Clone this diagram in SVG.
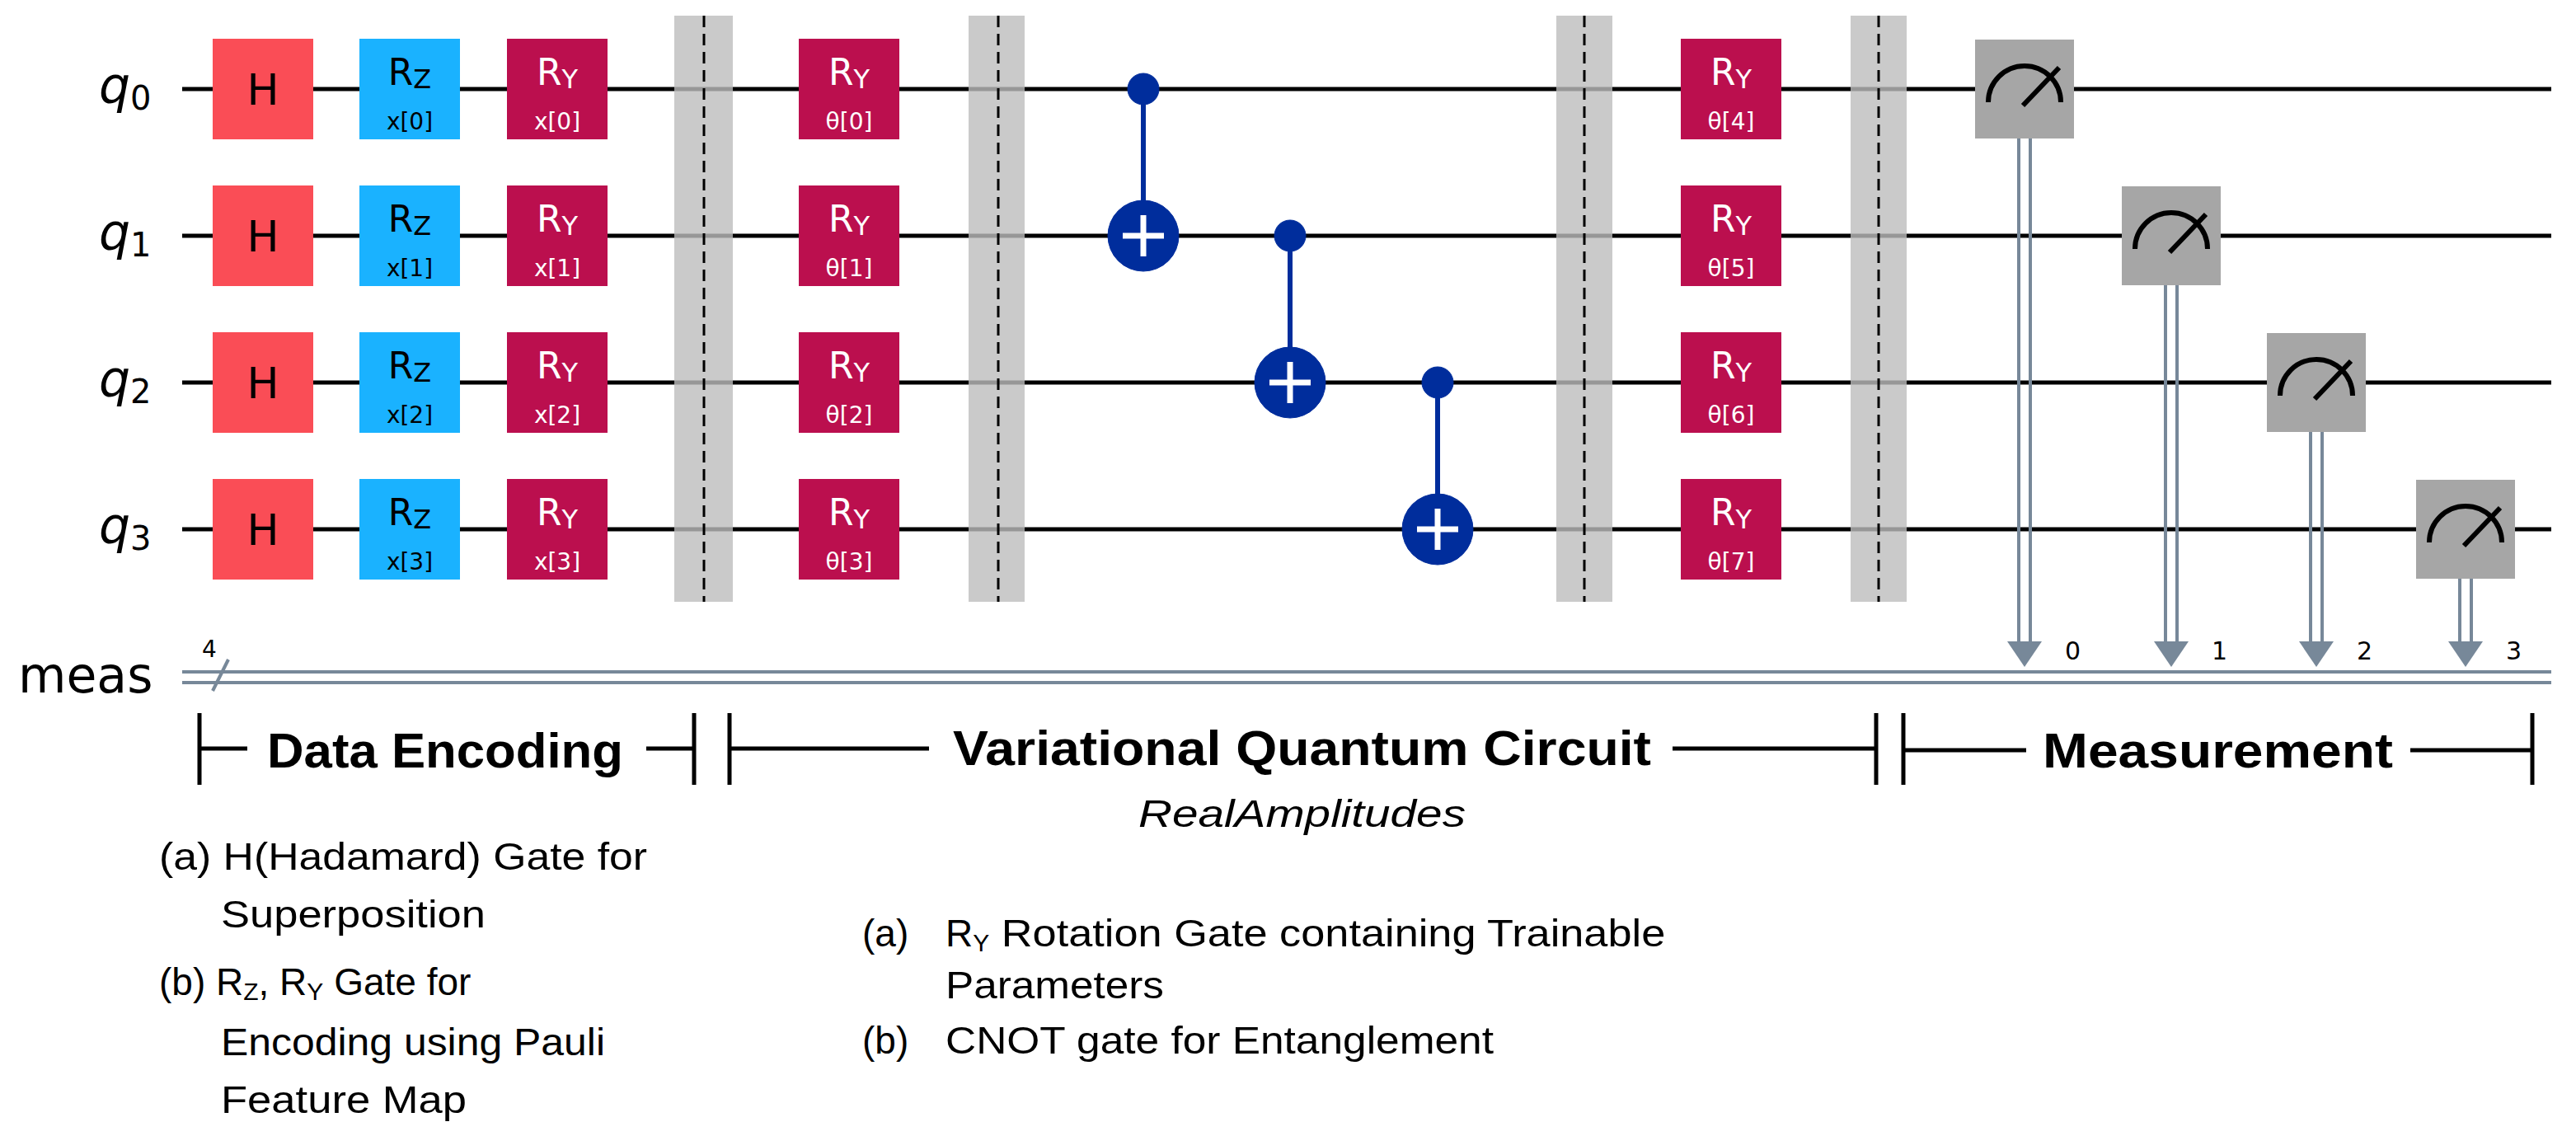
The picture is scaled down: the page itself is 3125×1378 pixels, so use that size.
<svg xmlns="http://www.w3.org/2000/svg" width="3125" height="1378" viewBox="0 0 3125 1378">
<style>
.w{stroke:#000;stroke-width:5}
.bar{fill:#bdbdbd;fill-opacity:0.8}
.dash{stroke:#000;stroke-width:3;stroke-dasharray:14 8}
.h{fill:#fa4d56}.rz{fill:#1ab2ff}.ry{fill:#bb0f4e}
.gt{font-family:"DejaVu Sans",sans-serif;text-anchor:middle}
.ql{font-family:"DejaVu Sans",sans-serif;font-style:italic;font-size:60px}
.cn{fill:#002d9c;stroke:#002d9c}
.mb{fill:#a6a6a6}
.gauge{fill:none;stroke:#000;stroke-width:6}
.cl{stroke:#778899;stroke-width:4;fill:none}
.br{stroke:#000;stroke-width:5;fill:none}
.bt{font-family:"Liberation Sans",Arial,sans-serif;font-weight:bold;font-size:60px}
.tx{font-family:"Liberation Sans",Arial,sans-serif;font-size:46px}
</style>
<rect width="3125" height="1378" fill="#fff"/>
<g id="labels">
<text class="ql" x="120" y="125">q<tspan font-size="40" font-style="normal" dy="8">0</tspan></text>
<text class="ql" x="120" y="303">q<tspan font-size="40" font-style="normal" dy="8">1</tspan></text>
<text class="ql" x="120" y="481">q<tspan font-size="40" font-style="normal" dy="8">2</tspan></text>
<text class="ql" x="120" y="659">q<tspan font-size="40" font-style="normal" dy="8">3</tspan></text>
<text x="22" y="840" font-family="DejaVu Sans,sans-serif" font-size="60">meas</text>
<text x="245" y="797" font-family="DejaVu Sans,sans-serif" font-size="28">4</text>
</g>
<g id="connectors">
<line class="w" x1="221" y1="108" x2="3095" y2="108"/>
<line class="w" x1="221" y1="286" x2="3095" y2="286"/>
<line class="w" x1="221" y1="464" x2="3095" y2="464"/>
<line class="w" x1="221" y1="642" x2="3095" y2="642"/>
<line class="cl" x1="221" y1="815" x2="3095" y2="815"/>
<line class="cl" x1="221" y1="828" x2="3095" y2="828"/>
<line x1="258" y1="838" x2="277" y2="800" stroke="#778899" stroke-width="4"/>
<line x1="1387" y1="108" x2="1387" y2="286" stroke="#002d9c" stroke-width="6"/>
<line x1="1565" y1="286" x2="1565" y2="464" stroke="#002d9c" stroke-width="6"/>
<line x1="1744" y1="464" x2="1744" y2="642" stroke="#002d9c" stroke-width="6"/>
<g class="cl">
<path d="M2449 168V780M2463 168V780"/>
<path d="M2627 346V780M2641 346V780"/>
<path d="M2803 524V780M2817 524V780"/>
<path d="M2984 702V780M2998 702V780"/>
</g>
<g fill="#778899">
<path d="M2435 778h42l-21 31z"/>
<path d="M2613 778h42l-21 31z"/>
<path d="M2789 778h42l-21 31z"/>
<path d="M2970 778h42l-21 31z"/>
</g>
<g font-family="DejaVu Sans,sans-serif" font-size="30">
<text x="2505" y="800">0</text><text x="2683" y="800">1</text><text x="2859" y="800">2</text><text x="3040" y="800">3</text>
</g>
</g>
<g id="gates-h">
<rect class="h" x="258" y="47" width="122" height="122"/><text class="gt" x="319" y="127" font-size="52">H</text>
<rect class="h" x="258" y="225" width="122" height="122"/><text class="gt" x="319" y="305" font-size="52">H</text>
<rect class="h" x="258" y="403" width="122" height="122"/><text class="gt" x="319" y="483" font-size="52">H</text>
<rect class="h" x="258" y="581" width="122" height="122"/><text class="gt" x="319" y="661" font-size="52">H</text>
</g>
<g id="gates-rz" fill="#000">
<rect class="rz" x="436" y="47" width="122" height="122"/><text class="gt" x="497" y="103" font-size="44">R<tspan font-size="32" dy="4">Z</tspan></text><text class="gt" x="497" y="157" font-size="28">x[0]</text>
<rect class="rz" x="436" y="225" width="122" height="122"/><text class="gt" x="497" y="281" font-size="44">R<tspan font-size="32" dy="4">Z</tspan></text><text class="gt" x="497" y="335" font-size="28">x[1]</text>
<rect class="rz" x="436" y="403" width="122" height="122"/><text class="gt" x="497" y="459" font-size="44">R<tspan font-size="32" dy="4">Z</tspan></text><text class="gt" x="497" y="513" font-size="28">x[2]</text>
<rect class="rz" x="436" y="581" width="122" height="122"/><text class="gt" x="497" y="637" font-size="44">R<tspan font-size="32" dy="4">Z</tspan></text><text class="gt" x="497" y="691" font-size="28">x[3]</text>
</g>
<g id="gates-ry-x" fill="#fff">
<rect class="ry" x="615" y="47" width="122" height="122"/><text class="gt" x="676" y="103" font-size="44">R<tspan font-size="32" dy="4">Y</tspan></text><text class="gt" x="676" y="157" font-size="28">x[0]</text>
<rect class="ry" x="615" y="225" width="122" height="122"/><text class="gt" x="676" y="281" font-size="44">R<tspan font-size="32" dy="4">Y</tspan></text><text class="gt" x="676" y="335" font-size="28">x[1]</text>
<rect class="ry" x="615" y="403" width="122" height="122"/><text class="gt" x="676" y="459" font-size="44">R<tspan font-size="32" dy="4">Y</tspan></text><text class="gt" x="676" y="513" font-size="28">x[2]</text>
<rect class="ry" x="615" y="581" width="122" height="122"/><text class="gt" x="676" y="637" font-size="44">R<tspan font-size="32" dy="4">Y</tspan></text><text class="gt" x="676" y="691" font-size="28">x[3]</text>
</g>
<g id="gates-ry-t1" fill="#fff">
<rect class="ry" x="969" y="47" width="122" height="122"/><text class="gt" x="1030" y="103" font-size="44">R<tspan font-size="32" dy="4">Y</tspan></text><text class="gt" x="1030" y="157" font-size="28">θ[0]</text>
<rect class="ry" x="969" y="225" width="122" height="122"/><text class="gt" x="1030" y="281" font-size="44">R<tspan font-size="32" dy="4">Y</tspan></text><text class="gt" x="1030" y="335" font-size="28">θ[1]</text>
<rect class="ry" x="969" y="403" width="122" height="122"/><text class="gt" x="1030" y="459" font-size="44">R<tspan font-size="32" dy="4">Y</tspan></text><text class="gt" x="1030" y="513" font-size="28">θ[2]</text>
<rect class="ry" x="969" y="581" width="122" height="122"/><text class="gt" x="1030" y="637" font-size="44">R<tspan font-size="32" dy="4">Y</tspan></text><text class="gt" x="1030" y="691" font-size="28">θ[3]</text>
</g>
<g id="gates-ry-t2" fill="#fff">
<rect class="ry" x="2039" y="47" width="122" height="122"/><text class="gt" x="2100" y="103" font-size="44">R<tspan font-size="32" dy="4">Y</tspan></text><text class="gt" x="2100" y="157" font-size="28">θ[4]</text>
<rect class="ry" x="2039" y="225" width="122" height="122"/><text class="gt" x="2100" y="281" font-size="44">R<tspan font-size="32" dy="4">Y</tspan></text><text class="gt" x="2100" y="335" font-size="28">θ[5]</text>
<rect class="ry" x="2039" y="403" width="122" height="122"/><text class="gt" x="2100" y="459" font-size="44">R<tspan font-size="32" dy="4">Y</tspan></text><text class="gt" x="2100" y="513" font-size="28">θ[6]</text>
<rect class="ry" x="2039" y="581" width="122" height="122"/><text class="gt" x="2100" y="637" font-size="44">R<tspan font-size="32" dy="4">Y</tspan></text><text class="gt" x="2100" y="691" font-size="28">θ[7]</text>
</g>
<g id="barriers">
<rect class="bar" x="818" y="19" width="71" height="711"/><line class="dash" x1="854" y1="19" x2="854" y2="730"/>
<rect class="bar" x="1175" y="19" width="68" height="711"/><line class="dash" x1="1211" y1="19" x2="1211" y2="730"/>
<rect class="bar" x="1888" y="19" width="68" height="711"/><line class="dash" x1="1922" y1="19" x2="1922" y2="730"/>
<rect class="bar" x="2245" y="19" width="68" height="711"/><line class="dash" x1="2279" y1="19" x2="2279" y2="730"/>
</g>
<g id="cnots">
<circle class="cn" cx="1387" cy="108" r="19"/><circle class="cn" cx="1387" cy="286" r="43"/><path d="M1362 286h50M1387 261v50" stroke="#fff" stroke-width="7"/>
<circle class="cn" cx="1565" cy="286" r="19"/><circle class="cn" cx="1565" cy="464" r="43"/><path d="M1540 464h50M1565 439v50" stroke="#fff" stroke-width="7"/>
<circle class="cn" cx="1744" cy="464" r="19"/><circle class="cn" cx="1744" cy="642" r="43"/><path d="M1719 642h50M1744 617v50" stroke="#fff" stroke-width="7"/>
</g>
<g id="measures">
<rect class="mb" x="2396" y="48" width="120" height="120"/><path class="gauge" d="M2412 124A44 44 0 0 1 2500 124M2454 128L2498 82"/>
<rect class="mb" x="2574" y="226" width="120" height="120"/><path class="gauge" d="M2590 302A44 44 0 0 1 2678 302M2632 306L2676 260"/>
<rect class="mb" x="2750" y="404" width="120" height="120"/><path class="gauge" d="M2766 480A44 44 0 0 1 2854 480M2808 484L2852 438"/>
<rect class="mb" x="2931" y="582" width="120" height="120"/><path class="gauge" d="M2947 658A44 44 0 0 1 3035 658M2989 662L3033 616"/>
</g>
<g id="brackets">
<path class="br" d="M242 865V952M242 908H300M784 908H842M842 865V952"/>
<text class="bt" x="324" y="931" textLength="432" lengthAdjust="spacingAndGlyphs">Data Encoding</text>
<path class="br" d="M885 865V952M885 908H1127M2029 908H2276M2276 865V952"/>
<text class="bt" x="1156" y="928" textLength="847" lengthAdjust="spacingAndGlyphs">Variational Quantum Circuit</text>
<path class="br" d="M2309 865V952M2309 910H2458M2924 910H3072M3072 865V952"/>
<text class="bt" x="2478" y="931" textLength="425" lengthAdjust="spacingAndGlyphs">Measurement</text>
<text class="tx" x="1381" y="1003" font-style="italic" textLength="397" lengthAdjust="spacingAndGlyphs">RealAmplitudes</text>
</g>
<g id="notes" class="tx">
<text x="193" y="1055" textLength="592" lengthAdjust="spacingAndGlyphs">(a) H(Hadamard) Gate for</text>
<text x="268" y="1125" textLength="321" lengthAdjust="spacingAndGlyphs">Superposition</text>
<text x="193" y="1207">(b) R<tspan font-size="30" dy="6">Z</tspan><tspan dy="-6">, R</tspan><tspan font-size="30" dy="6">Y</tspan><tspan dy="-6"> Gate for</tspan></text>
<text x="268" y="1280" textLength="466" lengthAdjust="spacingAndGlyphs">Encoding using Pauli</text>
<text x="268" y="1350" textLength="298" lengthAdjust="spacingAndGlyphs">Feature Map</text>
<text x="1046" y="1148">(a)</text>
<text x="1147" y="1148">R<tspan font-size="30" dy="6">Y</tspan><tspan dy="-6" textLength="820" lengthAdjust="spacingAndGlyphs"> Rotation Gate containing Trainable</tspan></text>
<text x="1147" y="1211" textLength="265" lengthAdjust="spacingAndGlyphs">Parameters</text>
<text x="1046" y="1278">(b)</text>
<text x="1147" y="1278" textLength="665" lengthAdjust="spacingAndGlyphs">CNOT gate for Entanglement</text>
</g>
</svg>
